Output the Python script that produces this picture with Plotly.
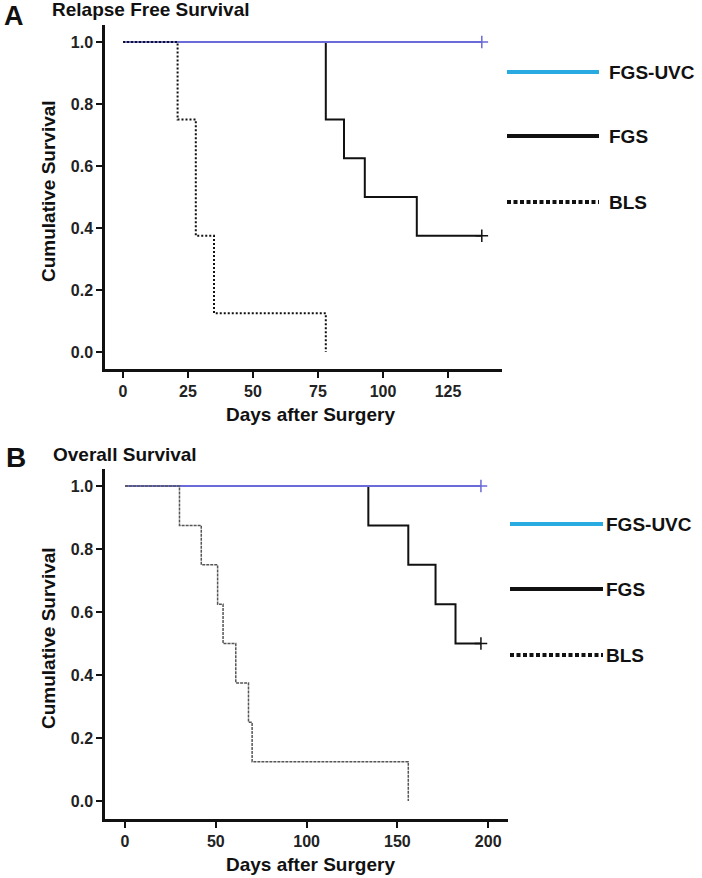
import plotly.graph_objects as go

W, H = 702, 878

# ---------------- data ----------------
# Panel A: Relapse Free Survival
a_uvc_days = [0, 138]
a_uvc_surv = [1.0, 1.0]
a_fgs_days = [0, 78, 85, 93, 113, 138]
a_fgs_surv = [1.0, 0.75, 0.625, 0.5, 0.375, 0.375]
a_bls_days = [0, 21, 28, 35, 78]
a_bls_surv = [1.0, 0.75, 0.375, 0.125, 0.0]

# Panel B: Overall Survival
b_uvc_days = [0, 196]
b_uvc_surv = [1.0, 1.0]
b_fgs_days = [0, 134, 156, 171, 182, 196]
b_fgs_surv = [1.0, 0.875, 0.75, 0.625, 0.5, 0.5]
b_bls_days = [0, 30, 42, 51, 54, 61, 68, 70, 156]
b_bls_surv = [1.0, 0.875, 0.75, 0.625, 0.5, 0.375, 0.25, 0.125, 0.0]

a_xticks = [0, 25, 50, 75, 100, 125]
b_xticks = [0, 50, 100, 150, 200]
y_ticks = [0.0, 0.2, 0.4, 0.6, 0.8, 1.0]

legend_names = ["FGS-UVC", "FGS", "BLS"]

# ---------------- style ----------------
FONT = "Liberation Sans, Arial, sans-serif"
UVC_PLOT = "#6a6ad8"
UVC_LEG = "#29abe2"
BLACK = "#111111"

def px(x):
    return x / W

def py(y):
    return 1 - y / H

fig = go.Figure()

def add_panel(xa, ya, uvc_d, uvc_s, fgs_d, fgs_s, bls_d, bls_s, bls_dash, bls_w, bls_col):
    fig.add_trace(go.Scatter(x=fgs_d, y=fgs_s, mode="lines", line=dict(shape="hv", color=BLACK, width=2),
                             xaxis=xa, yaxis=ya, showlegend=False, hoverinfo="skip"))
    fig.add_trace(go.Scatter(x=uvc_d, y=uvc_s, mode="lines", line=dict(shape="hv", color=UVC_PLOT, width=2),
                             xaxis=xa, yaxis=ya, showlegend=False, hoverinfo="skip"))
    fig.add_trace(go.Scatter(x=bls_d, y=bls_s, mode="lines",
                             line=dict(shape="hv", color=bls_col, width=bls_w, dash=bls_dash),
                             xaxis=xa, yaxis=ya, showlegend=False, hoverinfo="skip"))
    # censor marks
    fig.add_trace(go.Scatter(x=[uvc_d[-1]], y=[uvc_s[-1]], mode="markers",
                             marker=dict(symbol="cross-thin-open", size=9, color=UVC_PLOT,
                                         line=dict(color=UVC_PLOT, width=1.5)),
                             xaxis=xa, yaxis=ya, showlegend=False, hoverinfo="skip"))
    fig.add_trace(go.Scatter(x=[fgs_d[-1]], y=[fgs_s[-1]], mode="markers",
                             marker=dict(symbol="cross-thin-open", size=9, color=BLACK,
                                         line=dict(color=BLACK, width=1.5)),
                             xaxis=xa, yaxis=ya, showlegend=False, hoverinfo="skip"))

add_panel("x", "y", a_uvc_days, a_uvc_surv, a_fgs_days, a_fgs_surv, a_bls_days, a_bls_surv,
          "2px,2px", 2, BLACK)
add_panel("x2", "y2", b_uvc_days, b_uvc_surv, b_fgs_days, b_fgs_surv, b_bls_days, b_bls_surv,
          "3px,1px", 1.5, "#555555")

tickfont = dict(family=FONT, size=16, color="#222222", weight="bold")
axis_common = dict(showline=True, linecolor=BLACK, linewidth=2.5, mirror=False, showgrid=False,
                   zeroline=False, ticks="outside", ticklen=6, tickwidth=1.5, tickcolor=BLACK,
                   tickfont=tickfont, fixedrange=True)

fig.update_layout(
    width=W, height=H,
    margin=dict(l=0, r=0, t=0, b=0),
    paper_bgcolor="white", plot_bgcolor="white",
    showlegend=False,
    xaxis=dict(domain=[px(105), px(502)], range=[-18 / 2.6, (502 - 123) / 2.6],
               tickvals=a_xticks, anchor="y", **axis_common),
    yaxis=dict(domain=[py(369), py(25)], range=[-17 / 310, 1 + 17 / 310],
               tickvals=y_ticks, tickformat=".1f", anchor="x", **axis_common),
    xaxis2=dict(domain=[px(105), px(508)], range=[-20 / 1.816, (508 - 125) / 1.816],
                tickvals=b_xticks, anchor="y2", **axis_common),
    yaxis2=dict(domain=[py(819), py(469)], range=[-18 / 315, 1 + 17 / 315],
                tickvals=y_ticks, tickformat=".1f", anchor="x2", **axis_common),
)

def text(t, x, y, size, xanchor="center", angle=0, yanchor="middle"):
    fig.add_annotation(text=t, x=px(x), y=py(y), xref="paper", yref="paper", showarrow=False,
                       xanchor=xanchor, yanchor=yanchor, textangle=angle, borderpad=0,
                       font=dict(family=FONT, size=size, color="#111111", weight="bold"))

# panel letters and titles
text("A", 3, 0, 27, "left", yanchor="top")
text("Relapse Free Survival", 51, 10, 19, "left")
text("B", 5, 457, 28, "left")
text("Overall Survival", 52, 454, 19, "left")

# axis titles
text("Cumulative Survival", 48, 191, 19, angle=-90)
text("Days after Surgery", 310, 414, 19)
text("Cumulative Survival", 48, 638, 19, angle=-90)
text("Days after Surgery", 310, 864, 19)

# legends (drawn as decoration)
def legend(x0, x1, tx, ys):
    styles = [dict(color=UVC_LEG, width=4), dict(color=BLACK, width=4),
              dict(color=BLACK, width=4, dash="4px,2.5px")]
    for name, y, st in zip(legend_names, ys, styles):
        fig.add_shape(type="line", xref="paper", yref="paper", x0=px(x0), x1=px(x1),
                      y0=py(y), y1=py(y), line=st)
        text(name, tx, y, 19, "left")

legend(507, 599, 608, [72, 136, 202])
legend(510, 603, 605, [524, 589, 655])

fig.write_html("out.html", config={"displayModeBar": False},
               post_script="document.body.style.margin='0';document.body.style.overflow='hidden';")
